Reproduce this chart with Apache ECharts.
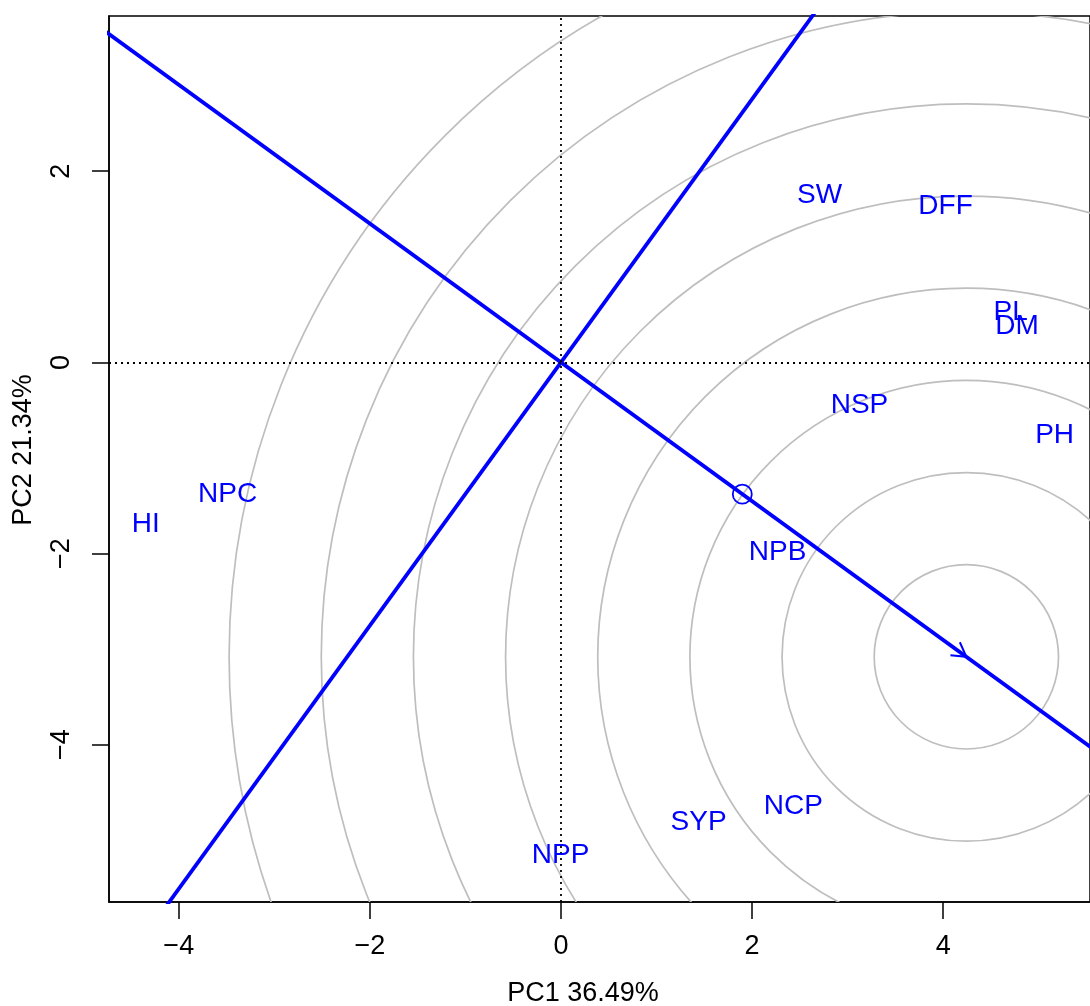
<!DOCTYPE html>
<html>
<head>
<meta charset="utf-8">
<script src="https://cdn.jsdelivr.net/npm/echarts@6/dist/echarts.min.js"></script>
<style>
  html, body { margin: 0; padding: 0; background: #fff; }
  #chart { width: 1090px; height: 1006px; }
</style>
</head>
<body>
<div id="chart"></div>
<script>
// trait labels and their biplot scores
var traitNames = ['SW', 'DFF', 'PL', 'DM', 'NSP', 'PH', 'NPC', 'HI', 'NPB', 'SYP', 'NCP', 'NPP'];
var pc1Scores = [2.707, 4.025, 4.706, 4.774, 3.124, 5.167, -3.488, -4.346, 2.268, 1.441, 2.433, -0.003];
var pc2Scores = [1.749, 1.634, 0.520, 0.373, -0.447, -0.762, -1.383, -1.696, -1.985, -4.810, -4.642, -5.155];
// ideal point (arrow) and the small circle on the axis
var idealPoint = [4.243, -3.081];
var meanPoint = [1.898, -1.379];
// concentric ring radii around the ideal point
var ringRadii = [0.9645, 1.929, 2.8935, 3.858, 4.8225, 5.787, 6.7515, 7.716];
var xTicks = [-4, -2, 0, 2, 4];
var yTicks = [-4, -2, 0, 2];

var BLUE = '#0000FF';
var FONT = 'Liberation Sans, Arial, Helvetica, sans-serif';

var chart = echarts.init(document.getElementById('chart'));

var labelData = traitNames.map(function (n, i) {
  return { name: n, value: [pc1Scores[i], pc2Scores[i]] };
});

// line through origin and ideal point, and its perpendicular
var aeaLine = [[-3 * idealPoint[0], -3 * idealPoint[1]], [3 * idealPoint[0], 3 * idealPoint[1]]];
var perpLine = [[3 * idealPoint[1], -3 * idealPoint[0]], [-3 * idealPoint[1], 3 * idealPoint[0]]];

function minusSign(v) {
  return String(v).replace('-', '\u2212');
}

var option = {
  animation: false,
  backgroundColor: '#fff',
  grid: {
    left: 109, right: 0, top: 16, bottom: 104,
    containLabel: false,
    outerBoundsMode: 'none',
    show: true,
    borderColor: '#000',
    borderWidth: 1.5,
    backgroundColor: 'transparent'
  },
  xAxis: {
    type: 'value',
    min: -4.73,
    max: 5.537,
    axisLine: { show: true, onZero: false, lineStyle: { color: '#000', width: 1.5 } },
    axisTick: { show: true, length: 17, inside: false, customValues: xTicks, lineStyle: { color: '#000', width: 1.5 } },
    axisLabel: {
      customValues: xTicks,
      formatter: minusSign,
      color: '#000', fontSize: 27, fontFamily: FONT, margin: 31
    },
    splitLine: { show: false }
  },
  yAxis: {
    type: 'value',
    min: -5.646,
    max: 3.624,
    axisLine: { show: true, onZero: false, lineStyle: { color: '#000', width: 1.5 } },
    axisTick: { show: true, length: 17, inside: false, customValues: yTicks, lineStyle: { color: '#000', width: 1.5 } },
    axisLabel: {
      customValues: yTicks,
      formatter: minusSign,
      rotate: 90,
      color: '#000', fontSize: 27, fontFamily: FONT, margin: 34
    },
    splitLine: { show: false }
  },
  graphic: [
    {
      type: 'text', x: 583, y: 994,
      style: { text: 'PC1 36.49%', fontSize: 27, fontFamily: FONT, fill: '#000', align: 'center', verticalAlign: 'middle' }
    },
    {
      type: 'text', x: 24, y: 450, rotation: Math.PI / 2,
      style: { text: 'PC2 21.34%', fontSize: 27, fontFamily: FONT, fill: '#000', align: 'center', verticalAlign: 'middle' }
    }
  ],
  series: [
    {
      // grey rings around the ideal point
      type: 'custom',
      clip: true,
      silent: true,
      data: ringRadii.map(function (r) { return [idealPoint[0], idealPoint[1], r]; }),
      renderItem: function (params, api) {
        var c = api.coord([api.value(0), api.value(1)]);
        var rpx = api.size([api.value(2), 0])[0];
        var cs = params.coordSys;
        return {
          type: 'circle',
          shape: { cx: c[0], cy: c[1], r: rpx },
          style: { fill: 'none', stroke: '#BEBEBE', lineWidth: 1.7 },
          clipPath: { type: 'rect', shape: { x: cs.x, y: cs.y, width: cs.width, height: cs.height } }
        };
      },
      z: 1
    },
    {
      type: 'line',
      data: aeaLine,
      showSymbol: false,
      symbol: 'none',
      lineStyle: { color: BLUE, width: 3.8 },
      silent: true,
      z: 3,
      markLine: {
        silent: true,
        symbol: ['none', 'none'],
        label: { show: false },
        lineStyle: { color: '#000', width: 1.8, type: [2, 4], opacity: 1 },
        data: [{ xAxis: 0 }, { yAxis: 0 }]
      }
    },
    {
      type: 'line',
      data: perpLine,
      showSymbol: false,
      symbol: 'none',
      lineStyle: { color: BLUE, width: 3.8 },
      silent: true,
      z: 3
    },
    {
      // open arrow head at the ideal point
      type: 'custom',
      silent: true,
      data: [idealPoint],
      renderItem: function (params, api) {
        var tip = api.coord([api.value(0), api.value(1)]);
        var o = api.coord([0, 0]);
        var back = Math.atan2(tip[1] - o[1], tip[0] - o[0]) + Math.PI;
        var len = 16, spread = Math.PI / 6;
        var a1 = [tip[0] + len * Math.cos(back - spread), tip[1] + len * Math.sin(back - spread)];
        var a2 = [tip[0] + len * Math.cos(back + spread), tip[1] + len * Math.sin(back + spread)];
        return {
          type: 'polyline',
          shape: { points: [a1, tip, a2] },
          style: { fill: 'none', stroke: BLUE, lineWidth: 2 }
        };
      },
      z: 4
    },
    {
      type: 'scatter',
      data: [meanPoint],
      symbol: 'circle',
      symbolSize: 19,
      itemStyle: { color: 'rgba(0,0,0,0)', borderColor: BLUE, borderWidth: 1.8, opacity: 1 },
      silent: true,
      z: 4
    },
    {
      type: 'scatter',
      data: labelData,
      symbolSize: 0,
      itemStyle: { opacity: 1 },
      label: {
        show: true,
        position: 'inside',
        formatter: '{b}',
        color: BLUE,
        opacity: 1,
        fontSize: 28,
        fontFamily: FONT
      },
      silent: true,
      z: 5
    }
  ]
};

chart.setOption(option);
</script>
</body>
</html>
